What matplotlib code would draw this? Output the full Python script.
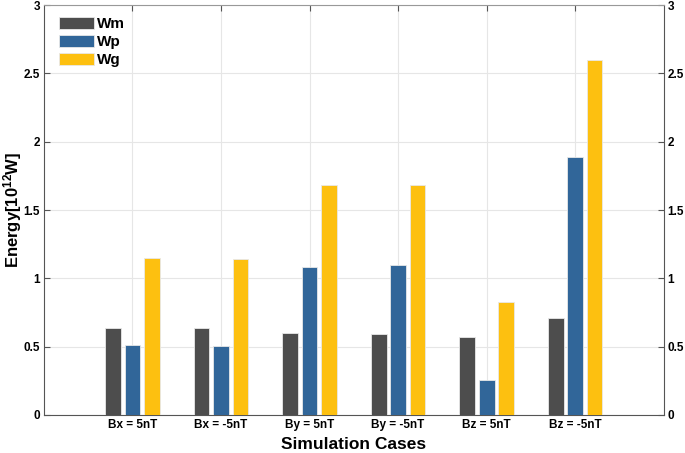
import numpy as np
import matplotlib
matplotlib.use("Agg")
import matplotlib.pyplot as plt

# data
cases = ["Bx = 5nT", "Bx = -5nT", "By = 5nT", "By = -5nT", "Bz = 5nT", "Bz = -5nT"]
wm = [0.635, 0.635, 0.597, 0.590, 0.572, 0.712]
wp = [0.510, 0.505, 1.085, 1.095, 0.258, 1.890]
wg = [1.150, 1.145, 1.680, 1.685, 0.830, 2.600]
series_names = ["Wm", "Wp", "Wg"]
series_colors = ["#4d4d4d", "#316699", "#fdc010"]

plt.rcParams['font.family'] = ['Liberation Sans', 'DejaVu Sans']
plt.rcParams['mathtext.fontset'] = 'custom'
plt.rcParams['mathtext.bf'] = 'Liberation Sans:bold'
plt.rcParams['mathtext.rm'] = 'Liberation Sans:bold'
plt.rcParams['mathtext.default'] = 'bf'

fig = plt.figure(figsize=(6.85, 4.53), dpi=100)
ax = fig.add_axes([0.0642, 0.0839, 0.9045, 0.905])

x = np.arange(1, len(cases) + 1)
width = 0.18
offset = 0.22
for i, (vals, name, col) in enumerate(zip([wm, wp, wg], series_names, series_colors)):
    ax.bar(x + (i - 1) * offset, vals, width, color=col, label=name,
           edgecolor="#e8e8e8", linewidth=0.6, zorder=3)

ax.set_xlim(0, 7)
ax.set_ylim(0, 3)
ax.set_xticks(x)
ax.set_xticklabels(cases, fontsize=8.5, fontweight="bold")
ax.set_yticks(np.arange(0, 3.01, 0.5))
ax.set_yticklabels(["0", "0.5", "1", "1.5", "2", "2.5", "3"], fontsize=8.5, fontweight="bold")
ax.grid(True, color="#e6e6e6", linewidth=0.8, zorder=0)
ax.tick_params(direction="in", length=4, color="#555555", top=True, right=True,
               labelright=True, pad=3)
for side in ["left", "bottom", "right"]:
    ax.spines[side].set_color("#555555")
ax.spines["top"].set_color("#999999")

ax.set_xlabel("Simulation Cases", fontsize=12.5, fontweight="bold", labelpad=4)
ax.set_ylabel("Energy[10$^{12}$W]", fontsize=12, fontweight="bold")
ax.yaxis.set_label_coords(-0.033, 0.5)

ax.legend(loc="upper left", frameon=False, prop={"weight": "bold", "size": 11},
          handlelength=2.3, handleheight=0.8, handletextpad=0.15, labelspacing=0.25,
          borderaxespad=0.4, bbox_to_anchor=(0.005, 1.0))

fig.savefig("out.png", dpi=100)
